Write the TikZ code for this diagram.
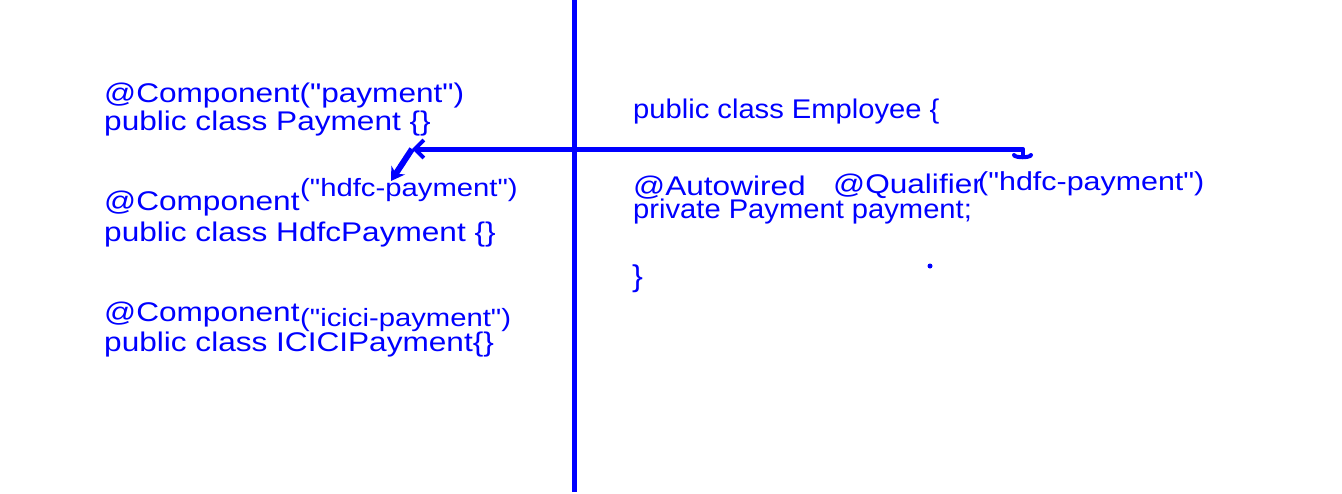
\documentclass[tikz,border=0pt]{standalone}
\usepackage{fontspec}
\setmainfont{Liberation Sans}
\newfontfamily\leftfnt{Liberation Sans}[FakeStretch=1.17]
\newfontfamily\rightfnt{Liberation Sans}[FakeStretch=1.08]
\newcommand\dq{\char34\relax}
\usetikzlibrary{arrows.meta}
\definecolor{ink}{RGB}{0,0,255}
\begin{document}
\begin{tikzpicture}[x=1pt,y=-1pt,
  txt/.style={anchor=base west,inner sep=0pt,text=ink,font=\leftfnt\fontsize{27}{28}\selectfont},
  small/.style={anchor=base west,inner sep=0pt,text=ink,font=\leftfnt\fontsize{25}{26}\selectfont},
  rtxt/.style={anchor=base west,inner sep=0pt,text=ink,font=\rightfnt\fontsize{27}{28}\selectfont},
  pen/.style={draw=ink,line width=5pt},
  penthick/.style={draw=ink,line width=6pt}]
\useasboundingbox[fill=white] (0,0) rectangle (1342,493);
% left column
\node[txt] (c1) at (104,102) {@Component(\dq payment\dq)};
\node[txt] (p1) at (104,130) {public class Payment \{\}};
\node[txt] (c2) at (104,210) {@Component};
\node[small] (q2) at (300,196) {(\dq hdfc-payment\dq)};
\node[txt] (p2) at (104,241.5) {public class HdfcPayment \{\}};
\node[txt] (c3) at (104,321.5) {@Component};
\node[small] (q3) at (300,326.5) {(\dq icici-payment\dq)};
\node[txt] (p3) at (104,351.5) {public class ICICIPayment\{\}};
% right column
\node[rtxt] (emp) at (633,118.3) {public class Employee \{};
\node[txt] (auto) at (633,195) {@Autowired};
\node[txt] (qual) at (833,193) {@Qualifier};
\node[rtxt,font=\leftfnt\fontsize{26}{27}\selectfont] (qv) at (978,190) {(\dq hdfc-payment\dq)};
\node[rtxt] (priv) at (633,218.5) {private Payment payment;};
\node[rtxt,font=\rightfnt\fontsize{30}{31}\selectfont] (close) at (632,286) {\}};
\fill[ink] (930,266) circle (2.5);
% divider
\coordinate (vtop) at (574,0);
\coordinate (vbot) at (574,492);
\draw[pen] (vtop) -- (vbot);
% arrows
\coordinate (R) at (1023,149);
\coordinate (L) at (412,149);
\coordinate (D) at (391,181);
\draw[pen,-{Straight Barb[length=9pt,width=18pt,line width=4pt]}] (R) -- (L);
\draw[penthick,-{Stealth[length=13pt,width=16pt]}] (L) -- (D);
\draw[draw=ink,line width=4pt,line cap=round] (R) -- ++(0,8);
\draw[draw=ink,line width=4pt,line cap=round] (1014,155) .. controls (1015,158) and (1030,158) .. (1031,155);
\end{tikzpicture}
\end{document}
